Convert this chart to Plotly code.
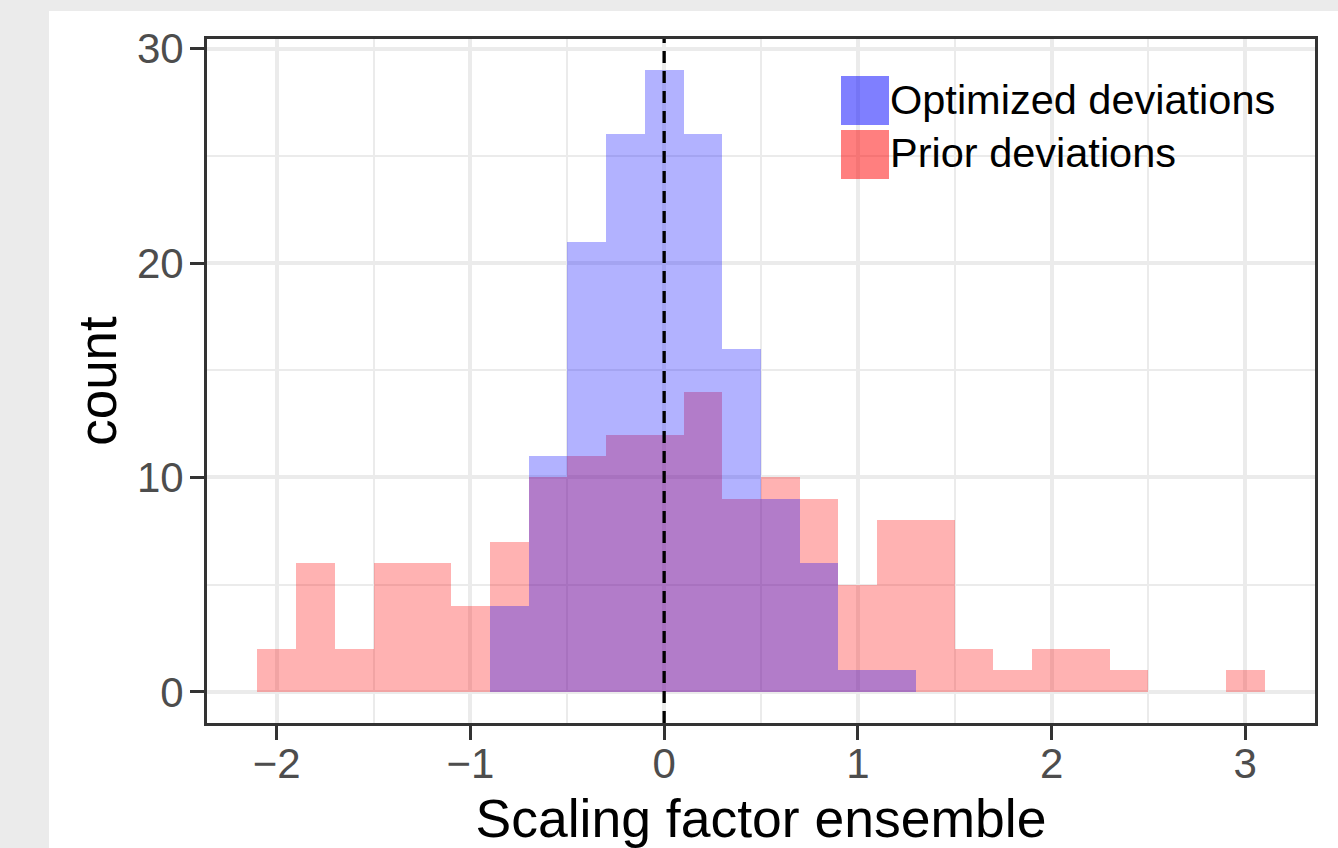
import plotly.graph_objects as go

# Histogram bins (centres, bin width 0.2, from -2.1 to 3.1)
bin_centers = [-2.0, -1.8, -1.6, -1.4, -1.2, -1.0, -0.8, -0.6, -0.4, -0.2, 0.0, 0.2, 0.4,
               0.6, 0.8, 1.0, 1.2, 1.4, 1.6, 1.8, 2.0, 2.2, 2.4, 2.6, 2.8, 3.0]
prior_counts = [2, 6, 2, 6, 6, 4, 7, 10, 11, 12, 12, 14, 9,
                10, 9, 5, 8, 8, 2, 1, 2, 2, 1, 0, 0, 1]
optimized_counts = [0, 0, 0, 0, 0, 0, 4, 11, 21, 26, 29, 26, 16,
                    9, 6, 1, 1, 0, 0, 0, 0, 0, 0, 0, 0, 0]
bin_width = 0.2

series_names = ["Optimized deviations", "Prior deviations"]
x_ticks = [-2, -1, 0, 1, 2, 3]
x_tick_text = ["\u22122", "\u22121", "0", "1", "2", "3"]
y_ticks = [0, 10, 20, 30]
x_title = "Scaling factor ensemble"
y_title = "count"

FONT = "Liberation Sans, Arial, Helvetica, sans-serif"
GRID = "#ebebeb"

fig = go.Figure()
fig.add_trace(go.Bar(
    x=bin_centers, y=prior_counts, width=bin_width,
    marker=dict(color="rgba(255,0,0,0.3)", line=dict(width=0)),
    name=series_names[1], showlegend=False, hoverinfo="x+y"))
fig.add_trace(go.Bar(
    x=bin_centers, y=optimized_counts, width=bin_width,
    marker=dict(color="rgba(0,0,255,0.3)", line=dict(width=0)),
    name=series_names[0], showlegend=False, hoverinfo="x+y"))

W, H = 1338, 848
L, R, T, B = 207, 23, 39, 125
pw, ph = W - L - R, H - T - B

def px(xp):
    return (xp - L) / pw

def py(yp):
    return (H - B - yp) / ph

shapes = [
    # white page area over grey border
    dict(type="rect", xref="paper", yref="paper", layer="below",
         x0=px(49), x1=px(W + 10), y0=py(H + 10), y1=py(11),
         fillcolor="white", line=dict(width=0)),
    # legend background
    dict(type="rect", xref="paper", yref="paper", layer="between",
         x0=px(812), x1=px(1304), y0=py(205), y1=py(46),
         fillcolor="white", line=dict(width=0)),
    # legend keys
    dict(type="rect", xref="paper", yref="paper", layer="above",
         x0=px(841), x1=px(889), y0=py(125), y1=py(76),
         fillcolor="rgba(0,0,255,0.5)", line=dict(width=0)),
    dict(type="rect", xref="paper", yref="paper", layer="above",
         x0=px(841), x1=px(889), y0=py(179), y1=py(130),
         fillcolor="rgba(255,0,0,0.5)", line=dict(width=0)),
    # dashed vertical line at 0
    dict(type="line", xref="x", yref="y domain", layer="above",
         x0=0, x1=0, y0=0, y1=1,
         line=dict(color="black", width=3.3, dash="12px,8px")),
]

annotations = [
    dict(text=series_names[0], xref="paper", yref="paper", x=px(888), y=py(99),
         xanchor="left", yanchor="middle", showarrow=False,
         font=dict(family=FONT, size=41.5, color="black")),
    dict(text=series_names[1], xref="paper", yref="paper", x=px(888), y=py(153),
         xanchor="left", yanchor="middle", showarrow=False,
         font=dict(family=FONT, size=41.5, color="black")),
]

fig.update_layout(
    width=W, height=H,
    margin=dict(l=L, r=R, t=T, b=B, autoexpand=False),
    paper_bgcolor=GRID, plot_bgcolor="white",
    barmode="overlay", bargap=0,
    font=dict(family=FONT),
    shapes=shapes, annotations=annotations,
    showlegend=False,
    xaxis=dict(
        range=[-2.36, 3.36], tickvals=x_ticks, ticktext=x_tick_text,
        showgrid=True, gridcolor=GRID, gridwidth=4.3, zeroline=False,
        minor=dict(dtick=0.5, tick0=0, showgrid=True, gridcolor=GRID, gridwidth=2.2),
        showline=True, linecolor="#333333", linewidth=3, mirror=True,
        ticks="outside", ticklen=14, tickwidth=3, tickcolor="#333333",
        tickfont=dict(family=FONT, size=42, color="#4d4d4d"),
        ticklabelstandoff=-12,
        title=dict(text=x_title, font=dict(family=FONT, size=53.5, color="black"), standoff=20),
    ),
    yaxis=dict(
        range=[-1.45, 30.45], tickvals=y_ticks,
        showgrid=True, gridcolor=GRID, gridwidth=4.3, zeroline=False,
        minor=dict(dtick=5, tick0=0, showgrid=True, gridcolor=GRID, gridwidth=2.2),
        showline=True, linecolor="#333333", linewidth=3, mirror=True,
        ticks="outside", ticklen=14, tickwidth=3, tickcolor="#333333",
        tickfont=dict(family=FONT, size=42, color="#4d4d4d"),
        ticklabelstandoff=-2,
        title=dict(text=y_title, font=dict(family=FONT, size=53, color="black"), standoff=4),
    ),
)

fig.write_html("out.html",
               config={"displayModeBar": False},
               post_script="document.body.style.margin='0';document.body.style.overflow='hidden';")
